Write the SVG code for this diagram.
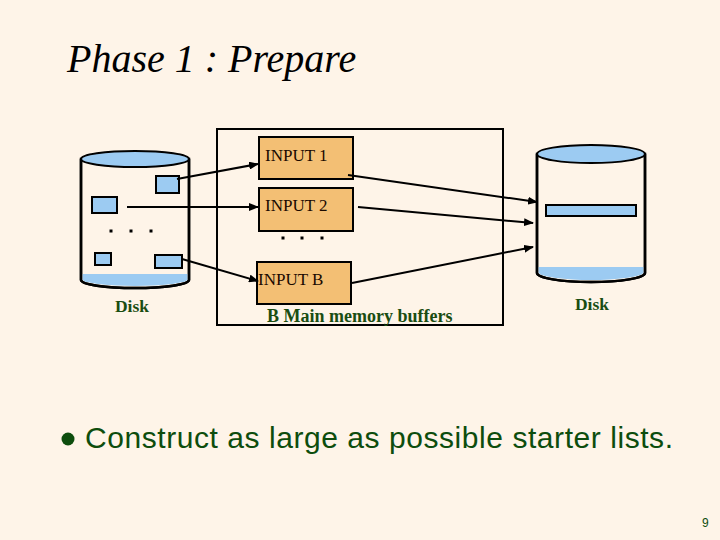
<svg xmlns="http://www.w3.org/2000/svg" width="720" height="540" viewBox="0 0 720 540">
<defs>
<marker id="ah" markerWidth="10" markerHeight="8" refX="9" refY="4" orient="auto" markerUnits="userSpaceOnUse">
<path d="M0,0 L10,4 L0,8 Z" fill="#000"/>
</marker>
<style>
.bg{fill:#FEF4E8}
.cyl{fill:#FEF4E8;stroke:#000;stroke-width:2.5}
.blue{fill:#9CCBF2;stroke:#000;stroke-width:2}
.band{fill:#9CCBF2}
.buf{fill:#F3BF74;stroke:#000;stroke-width:2}
.frame{fill:none;stroke:#000;stroke-width:2}
.conn{stroke:#000;stroke-width:2;fill:none;marker-end:url(#ah)}
.dot{fill:#000}
.lbl{font-family:"Liberation Serif","Times New Roman",serif;font-size:17px;fill:#1a0a00}
.grn{font-family:"Liberation Serif","Times New Roman",serif;font-size:17.5px;font-weight:bold;fill:#1a4d12}
</style>
</defs>
<rect class="bg" x="0" y="0" width="720" height="540"/>
<text x="67" y="72" font-family="Liberation Serif, Times New Roman, serif" font-style="italic" font-size="40" fill="#000">Phase 1 : Prepare</text>

<g id="disk-left">
<path class="cyl" d="M81,159 L81,280 A54,8 0 0 0 189,280 L189,159 Z"/>
<path class="band" d="M82.5,274 L187.5,274 L187.5,280 A53,7 0 0 1 82.5,280 Z"/>
<path d="M81,159 L81,280 A54,8 0 0 0 189,280 L189,159" fill="none" stroke="#000" stroke-width="2.5"/>
<ellipse class="blue" cx="135" cy="159" rx="54" ry="8" stroke-width="2.5"/>
<rect class="blue" x="156" y="176" width="23" height="17"/>
<rect class="blue" x="92" y="197" width="25" height="16"/>
<rect class="blue" x="95" y="253" width="16" height="12"/>
<rect class="blue" x="155" y="255" width="27" height="13"/>
<rect class="dot" x="109.5" y="229.5" width="3" height="3"/>
<rect class="dot" x="129.5" y="229.5" width="3" height="3"/>
<rect class="dot" x="149.5" y="229.5" width="3" height="3"/>
<text class="grn" x="132" y="312" text-anchor="middle">Disk</text>
</g>

<g id="memory">
<rect class="frame" x="217" y="129" width="286" height="196"/>
<text class="grn" x="267" y="322" style="font-size:18px">B Main memory buffers</text>
</g>

<g id="input1">
<rect class="buf" x="259" y="137" width="94" height="42"/>
<text class="lbl" x="265" y="161">INPUT 1</text>
</g>
<g id="input2">
<rect class="buf" x="259" y="188" width="94" height="43"/>
<text class="lbl" x="265" y="211">INPUT 2</text>
</g>
<g id="dots-mid">
<rect class="dot" x="281.5" y="236.5" width="3" height="3"/>
<rect class="dot" x="300.5" y="236.5" width="3" height="3"/>
<rect class="dot" x="320.5" y="236.5" width="3" height="3"/>
</g>
<g id="inputB">
<rect class="buf" x="257" y="262" width="94" height="42"/>
<text class="lbl" x="258" y="285">INPUT B</text>
</g>

<g id="disk-right">
<path class="cyl" d="M537,154 L537,273 A54,9 0 0 0 645,273 L645,154 Z"/>
<path class="band" d="M538.5,267 L643.5,267 L643.5,273 A53,8 0 0 1 538.5,273 Z"/>
<path d="M537,154 L537,273 A54,9 0 0 0 645,273 L645,154" fill="none" stroke="#000" stroke-width="2.5"/>
<ellipse class="blue" cx="591" cy="154" rx="54" ry="9" stroke-width="2.5"/>
<rect class="blue" x="546" y="205" width="90" height="11"/>
<text class="grn" x="592" y="310" text-anchor="middle">Disk</text>
</g>

<g id="connectors">
<line class="conn" x1="177" y1="179" x2="258" y2="164"/>
<line class="conn" x1="127" y1="207" x2="258" y2="207"/>
<line class="conn" x1="182" y1="259" x2="258" y2="281"/>
<line class="conn" x1="348" y1="175" x2="537" y2="202"/>
<line class="conn" x1="358" y1="207" x2="533" y2="223"/>
<line class="conn" x1="352" y1="283" x2="533" y2="247"/>
</g>

<g id="bullet">
<circle cx="68" cy="439" r="6.5" fill="#0d4d0d"/>
<text x="85" y="448" font-family="Liberation Sans, Arial, sans-serif" font-size="30" fill="#0d4d0d" textLength="588" lengthAdjust="spacing">Construct as large as possible starter lists.</text>
</g>
<text x="702" y="527" font-family="Liberation Sans, Arial, sans-serif" font-size="12" fill="#0d4d0d">9</text>
</svg>
